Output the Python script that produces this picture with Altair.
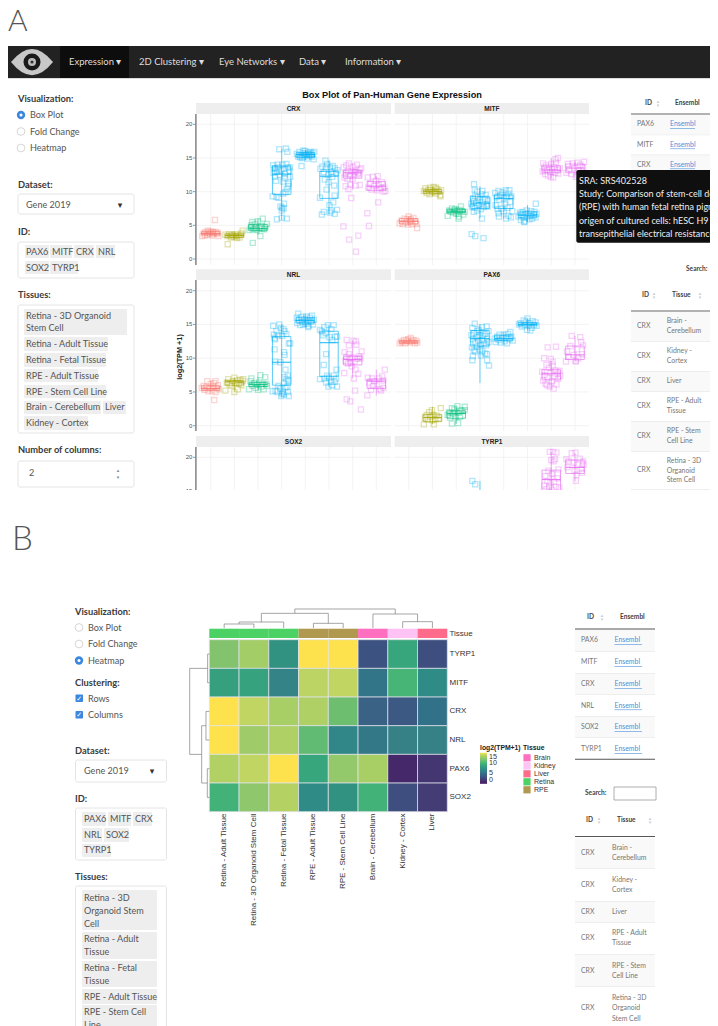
import altair as alt
import pandas as pd

# ---------- values ----------
GENES = ["CRX", "MITF", "NRL", "PAX6", "SOX2", "TYRP1"]
GROUP_TISSUE = ["Brain", "Kidney", "Liver", "Retina", "Retina", "Retina", "RPE", "RPE"]
TISSUES = ["Brain", "Kidney", "Liver", "Retina", "RPE"]
BOX_HUES = ["#F8766D", "#A3A500", "#00BF7D", "#00B0F6", "#E76BF3"]

# per gene: group -> (low whisker, q1, median, q3, high whisker)
BOXES = {
    "CRX": {1: (3.4, 3.6, 3.8, 4.1, 4.4), 2: (2.9, 3.2, 3.5, 3.7, 4.1), 3: (3.6, 4.2, 4.5, 5.1, 6.0),
            4: (5.8, 9.6, 12.6, 13.8, 16.3), 5: (14.7, 15.1, 15.5, 15.8, 16.2), 6: (6.6, 9.0, 12.3, 13.0, 14.6),
            7: (10.3, 12.0, 12.8, 13.2, 14.2), 8: (10.0, 10.2, 10.8, 11.5, 12.3)},
    "MITF": {1: (4.9, 5.2, 5.6, 6.0, 6.3), 2: (9.3, 9.7, 10.0, 10.3, 10.7), 3: (6.2, 6.9, 7.1, 7.4, 7.8),
             4: (6.0, 7.5, 8.3, 9.3, 10.8), 5: (6.0, 7.5, 9.0, 9.5, 10.2), 6: (5.5, 6.1, 6.5, 7.0, 8.0),
             7: (12.0, 12.8, 13.2, 13.8, 15.0), 8: (12.0, 12.8, 13.5, 14.1, 14.4)},
    "NRL": {1: (5.0, 5.2, 5.5, 5.9, 6.6), 2: (5.0, 6.0, 6.5, 6.7, 7.1), 3: (5.2, 5.8, 6.1, 6.4, 7.2),
            4: (4.3, 6.0, 9.4, 13.2, 15.0), 5: (14.6, 15.2, 15.6, 16.0, 16.6), 6: (5.7, 7.3, 12.3, 14.0, 15.0),
            7: (7.0, 9.0, 9.8, 10.3, 12.7), 8: (4.5, 5.5, 6.6, 6.9, 8.3)},
    "PAX6": {1: (12.0, 12.2, 12.4, 12.6, 13.0), 2: (0.2, 0.6, 1.2, 1.7, 2.8), 3: (0.3, 1.1, 1.8, 2.2, 3.0),
             4: (6.3, 11.8, 12.9, 14.1, 15.0), 5: (12.2, 12.6, 12.9, 13.4, 13.9), 6: (14.1, 14.8, 15.0, 15.3, 15.9),
             7: (5.5, 6.8, 7.7, 8.3, 9.6), 8: (9.5, 9.8, 10.5, 11.8, 13.3)},
    "TYRP1": {4: (13.0, 13.4, 13.9, 14.6, 16.5), 7: (13.0, 14.6, 16.7, 18.1, 20.8), 8: (16.4, 17.6, 18.5, 19.6, 20.6)},
}

# per gene: group -> (jitter, log2(TPM+1)) read point by point
POINTS = {
 "CRX": {
  1: [(-.36,3.4),(-.3,3.8),(-.25,3.5),(-.22,4.0),(-.15,3.6),(-.08,3.9),(-.02,3.7),(0,4.1),(.06,3.5),(.12,3.8),(.18,5.8),(.2,4.0),(.27,3.7),(.3,3.9),(.33,3.4),(-.12,4.2),(.08,4.0)],
  2: [(-.38,3.6),(-.3,3.4),(-.28,2.2),(-.22,3.7),(-.15,3.2),(-.08,3.6),(-.02,3.3),(.04,3.7),(.1,3.1),(.16,3.5),(.22,3.2),(.28,3.6),(.35,4.2),(-.12,3.5),(.08,3.4),(.3,3.8)],
  3: [(-.36,4.3),(-.3,4.7),(-.22,2.4),(-.24,5.5),(-.2,4.4),(-.14,5.2),(-.1,4.6),(-.05,4.3),(.0,5.6),(.06,4.6),(.1,3.4),(.14,4.9),(.2,6.0),(.26,4.4),(.32,4.8),(.38,5.2),(-.28,5.0),(.18,4.5)],
  4: [(-.38,9.3),(-.3,13.5),(-.36,13.9),(-.2,13.0),(-.1,16.3),(.18,16.4),(.24,15.9),(-.34,12.8),(-.27,13.4),(-.24,11.6),(-.18,14.0),(-.14,13.6),(-.08,12.5),(-.02,13.1),(.03,14.0),(.09,13.4),(.14,12.7),(.2,14.1),(.26,13.6),(.33,13.1),(.36,12.2),(.12,12.0),(.28,10.8),(.22,10.4),(.16,9.9),(.06,9.7),(-.12,9.1),(-.22,9.2),(.3,11.2),(-.05,7.8),(.02,7.6),(.08,7.5),(.0,7.2),(-.2,5.9),(.0,6.1),(.22,6.0),(.1,8.2),(-.28,12.2),(.35,13.6),(.05,11.5)],
  5: [(-.36,15.6),(-.3,15.2),(-.25,15.9),(-.2,15.4),(-.16,13.8),(-.14,15.0),(-.1,15.7),(-.05,15.2),(0,16.0),(.04,15.5),(.08,14.9),(.12,15.8),(.17,15.3),(.22,15.9),(.27,15.2),(.3,15.7),(.35,14.8),(.38,15.9),(-.02,15.5),(.15,15.6),(-.22,15.1),(-.08,16.1),(.25,15.5)],
  6: [(-.38,9.1),(-.36,13.4),(-.28,13.7),(-.22,12.9),(-.15,14.6),(-.12,13.6),(-.08,14.1),(-.02,12.5),(.04,13.6),(.1,12.9),(.16,13.8),(.24,13.5),(.3,12.8),(.36,13.2),(.22,10.9),(.24,9.4),(-.3,6.6),(-.22,7.0),(.02,8.0),(.1,7.2),(.18,8.4),(.24,6.7),(.34,7.3),(.05,6.9),(-.02,11.4),(.14,12.2),(-.1,10.3),(-.18,11.8)],
  7: [(-.39,4.85),(-.15,2.87),(.24,3.47),(.14,1.1),(-.06,9.05),(-.38,13.6),(-.3,12.7),(-.27,13.9),(-.2,13.0),(-.16,14.2),(-.1,12.4),(-.04,13.1),(.02,13.7),(.06,12.5),(.12,13.0),(.18,14.0),(.24,12.6),(.3,13.3),(.36,13.5),(-.3,10.8),(-.18,10.4),(-.1,11.0),(.14,10.9),(.3,11.0),(.0,11.9),(-.22,11.9),(.08,12.9),(.22,12.8),(-.34,12.1)],
  8: [(-.38,6.8),(-.31,4.9),(.08,8.4),(-.36,12.1),(-.34,10.6),(-.24,11.2),(-.2,10.3),(-.15,12.2),(-.1,10.9),(-.02,11.6),(.03,10.2),(.06,12.3),(.1,11.0),(.18,10.5),(.24,11.4),(.3,10.0),(.34,10.6),(.38,10.1)],
 },
 "MITF": {
  1: [(-.38,5.3),(-.3,5.7),(-.25,5.2),(-.18,6.0),(-.12,5.4),(-.06,5.9),(0,6.3),(.05,5.5),(.1,5.9),(.16,5.2),(.2,6.1),(.27,5.6),(.33,5.2),(.35,4.6),(-.02,5.1),(.08,5.7)],
  2: [(-.36,10.1),(-.3,10.5),(-.24,9.8),(-.18,10.2),(-.12,9.6),(-.06,10.3),(0,9.9),(.05,10.7),(.1,10.1),(.16,9.7),(.2,10.4),(.26,10.0),(.32,9.5),(.36,10.2),(.34,9.3),(.14,10.6),(-.1,10.6)],
  3: [(-.36,6.4),(-.3,7.2),(-.24,7.0),(-.18,7.5),(-.12,6.9),(-.06,7.2),(0,6.7),(.05,7.1),(.1,6.0),(.15,7.3),(.2,7.8),(.25,7.1),(.3,6.6),(.36,7.0),(.12,6.3),(-.04,7.4)],
  4: [(-.25,11.1),(-.22,10.3),(-.12,10.0),(-.36,8.2),(-.34,7.7),(-.3,9.0),(-.26,8.5),(-.22,7.6),(-.2,9.4),(-.16,8.3),(-.12,7.2),(-.08,9.2),(-.04,8.0),(0,8.8),(.04,7.4),(.08,9.6),(.12,8.4),(.16,7.7),(.2,8.9),(.24,9.5),(.28,8.1),(.32,7.8),(.34,8.7),(-.35,3.7),(-.2,3.4),(.15,3.1),(.08,6.0),(-.26,7.0),(.1,10.1)],
  5: [(-.36,9.8),(-.34,8.0),(-.3,9.2),(-.26,7.4),(-.22,10.1),(-.18,8.8),(-.14,9.5),(-.1,7.5),(-.06,9.9),(0,9.0),(.04,8.1),(.08,10.2),(.12,9.2),(.16,7.6),(.2,9.7),(.24,10.2),(.28,8.5),(.32,9.3),(.36,7.1),(.2,6.4),(.3,6.2),(-.2,6.3),(-.22,6.8),(.1,6.0),(0,7.1)],
  6: [(-.38,6.3),(-.32,6.9),(-.28,5.8),(-.24,6.5),(-.2,7.0),(-.16,6.1),(-.12,5.6),(-.08,6.7),(-.04,7.2),(0,6.2),(.04,6.8),(.08,5.9),(.12,6.4),(.16,7.1),(.2,6.0),(.26,6.6),(.3,7.0),(.34,6.2),(.35,8.2),(.38,6.7),(-.14,5.5)],
  7: [(-.36,13.0),(-.34,14.2),(-.3,13.6),(-.26,12.6),(-.22,13.9),(-.18,13.2),(-.14,12.4),(-.08,13.6),(-.04,12.9),(0,14.1),(.04,13.3),(.08,12.1),(.12,13.7),(.16,12.8),(.2,14.3),(.24,13.2),(.28,15.0),(.3,12.7),(.36,13.5),(.18,14.8),(-.02,12.2)],
  8: [(-.36,12.8),(-.3,14.1),(-.24,13.3),(-.16,12.6),(-.1,14.2),(-.04,13.5),(.04,12.2),(.1,14.3),(.16,13.1),(.22,14.0),(.28,12.7),(.34,13.6),(.38,14.4)],
 },
 "NRL": {
  1: [(-.38,5.6),(-.3,5.9),(-.25,5.3),(-.18,5.7),(-.14,6.6),(-.1,5.1),(-.04,5.6),(0,6.2),(.05,5.2),(.1,5.8),(.14,6.3),(.15,3.8),(.2,5.0),(.25,5.6),(.3,6.0),(.34,5.4),(.2,6.6)],
  2: [(-.38,5.2),(-.32,6.4),(-.26,6.9),(-.2,6.1),(-.12,5.9),(-.06,6.6),(0,7.1),(.0,5.0),(.05,6.3),(.1,6.7),(.15,5.4),(.2,6.2),(.25,6.8),(.3,6.0),(.35,6.6),(.38,6.9)],
  3: [(-.38,5.4),(-.32,6.6),(-.28,7.0),(-.24,5.9),(-.16,6.3),(-.1,5.6),(-.04,6.1),(0,5.3),(.05,6.4),(.1,7.5),(.14,5.8),(.2,6.2),(.24,5.4),(.3,7.2),(.35,6.2),(.38,5.9)],
  4: [(-.36,14.8),(-.33,13.5),(-.3,13.0),(-.28,12.8),(-.22,14.0),(-.16,13.4),(-.1,15.0),(-.04,14.5),(.02,13.3),(.08,14.3),(.12,14.0),(.2,13.6),(.3,12.2),(.36,12.2),(-.3,11.3),(-.28,9.5),(.1,10.9),(.12,10.5),(-.05,9.4),(.16,8.3),(.12,7.2),(.26,7.4),(.2,6.9),(.28,6.7),(.1,6.3),(-.38,5.1),(-.26,5.2),(-.18,5.0),(-.06,5.5),(-.02,4.4),(.05,5.0),(.1,4.6),(.16,5.6),(.26,5.0),(.3,4.4),(.24,5.8),(.02,4.7),(-.14,5.9)],
  5: [(-.36,16.0),(-.34,15.2),(-.28,15.7),(-.22,14.9),(-.18,16.1),(-.14,15.4),(-.08,15.0),(-.04,15.8),(0,15.3),(.05,16.2),(.1,15.6),(.14,14.8),(.2,16.0),(.24,15.4),(.28,16.3),(.32,15.0),(.36,15.7),(-.3,16.6),(.12,14.6),(.05,15.1)],
  6: [(-.38,6.9),(-.38,14.2),(-.3,14.0),(-.24,13.4),(-.2,14.6),(-.14,13.7),(-.05,14.9),(.02,13.1),(.1,14.3),(.14,12.7),(.2,14.9),(.26,13.2),(.34,13.2),(-.22,9.0),(-.12,10.6),(-.2,7.0),(-.08,7.4),(.0,7.1),(-.12,6.4),(-.02,5.8),(.08,6.5),(.14,6.0),(.2,7.4),(.32,8.3),(.34,5.8),(.24,6.5),(.3,7.0)],
  7: [(-.36,7.8),(-.34,10.9),(-.25,12.7),(-.25,3.9),(-.1,3.6),(.1,5.2),(.35,2.4),(.05,7.0),(-.3,9.6),(-.26,10.2),(-.2,9.2),(-.16,11.9),(-.12,10.0),(-.08,9.3),(-.04,8.8),(0,10.1),(.04,12.6),(.08,9.5),(.12,8.3),(.16,12.0),(.2,9.9),(.24,7.7),(.28,10.3),(.32,10.0),(.38,11.0),(-.16,10.6),(.14,12.5)],
  8: [(-.38,4.5),(-.36,7.1),(-.3,6.4),(-.22,5.3),(-.18,7.0),(-.14,5.9),(-.08,6.6),(.02,6.1),(.12,7.0),(.15,5.4),(.2,5.2),(.25,7.3),(.3,6.7),(.3,5.6),(.36,8.3)],
 },
 "PAX6": {
  1: [(-.38,12.2),(-.32,12.5),(-.26,12.3),(-.2,12.7),(-.14,12.2),(-.08,12.6),(-.02,12.8),(.03,12.3),(.08,13.0),(.14,12.5),(.2,12.7),(.26,12.2),(.32,12.6),(.36,12.3)],
  2: [(-.36,0.2),(-.32,1.2),(-.24,1.6),(-.2,0.9),(-.14,2.0),(-.08,1.3),(-.02,2.3),(0,0.8),(.04,1.6),(.06,0.2),(.12,1.0),(.18,1.5),(.35,2.6),(.26,1.1)],
  3: [(-.36,1.6),(-.3,2.0),(-.26,1.2),(-.18,2.6),(-.14,1.8),(-.08,2.4),(-.02,1.3),(-.18,0.3),(.05,2.9),(.08,0.4),(.1,1.9),(.16,1.3),(.2,2.3),(.26,2.2),(.36,2.8),(.36,2.3),(-.05,2.0)],
  4: [(-.32,14.5),(-.22,15.1),(-.04,14.2),(.08,14.6),(.28,14.7),(.3,9.7),(.36,14.0),(-.36,13.4),(-.3,12.8),(-.24,13.7),(-.2,12.3),(-.14,13.1),(-.1,14.0),(-.06,12.6),(-.02,13.4),(.02,12.0),(.06,13.8),(.1,12.7),(.14,13.3),(.18,12.2),(.22,13.6),(.26,11.9),(.3,12.9),(.36,12.4),(-.34,11.6),(-.26,11.2),(-.14,11.7),(0,11.3),(.1,11.0),(.22,10.7),(.3,10.6),(-.32,9.7),(.38,8.9),(-.3,10.3),(.04,10.4),(-.2,11.0)],
  5: [(-.38,12.9),(-.34,12.4),(-.28,13.2),(-.22,12.7),(-.18,13.5),(-.12,12.3),(-.06,13.0),(0,13.5),(.04,12.5),(.1,13.1),(.14,12.2),(.18,13.6),(.24,12.8),(.28,13.9),(.32,13.2),(.38,12.6)],
  6: [(-.36,15.0),(-.3,15.2),(-.24,14.7),(-.16,15.6),(-.1,14.9),(-.06,15.4),(0,15.9),(.04,14.8),(.08,15.2),(.12,14.1),(.18,14.5),(.22,15.5),(.28,14.9),(.34,15.3),(.38,14.8),(-.02,14.2)],
  7: [(-.38,8.0),(-.34,6.7),(-.3,10.0),(-.28,7.5),(-.24,6.2),(-.2,9.0),(-.16,7.2),(-.15,11.6),(-.1,8.6),(-.06,5.8),(-.03,7.8),(-.02,9.9),(.03,6.6),(.06,8.9),(.1,5.5),(.14,7.4),(.18,8.2),(.2,11.7),(.22,6.1),(.26,7.7),(.3,7.0),(.35,8.1),(.38,7.4),(.06,9.5),(-.18,6.0)],
  8: [(-.38,9.5),(-.34,11.0),(-.28,10.2),(-.2,11.8),(-.14,13.3),(-.06,10.5),(.02,9.6),(.08,11.3),(.14,10.0),(.22,13.1),(.26,12.4),(.3,10.6),(.34,11.9),(.04,9.5)],
 },
 "TYRP1": {
  4: [(-.32,16.5),(-.2,16.0)],
  7: [(-.36,14.7),(-.3,15.8),(-.25,17.2),(-.2,15.3),(-.16,16.5),(-.12,18.0),(-.08,15.6),(-.06,20.8),(-.03,16.2),(0,19.6),(.04,15.2),(.06,17.5),(.08,20.8),(.12,16.4),(.16,19.7),(.2,15.6),(.22,20.7),(.26,16.9),(.3,18.2),(.34,15.5),(.1,19.4),(-.1,14.9),(.02,17.6)],
  8: [(-.36,19.7),(-.32,18.5),(-.28,19.4),(-.14,20.6),(-.04,19.2),(-.02,18.0),(.02,20.7),(.06,17.4),(.1,18.9),(.04,16.5),(.2,19.8),(.28,18.3),(.34,19.4),(.3,17.7),(.36,18.9)],
 },
}

HEAT_COLS = ["Retina - Adult Tissue", "Retina - 3D Organoid Stem Cell", "Retina - Fetal Tissue",
             "RPE - Adult Tissue", "RPE - Stem Cell Line", "Brain - Cerebellum", "Kidney - Cortex", "Liver"]
HEAT_COL_TISSUE = ["Retina", "Retina", "Retina", "RPE", "RPE", "Brain", "Kidney", "Liver"]
HEAT_ROWS = ["TYRP1", "MITF", "CRX", "NRL", "PAX6", "SOX2"]
HEAT_VALUES = [
    [11.9, 13.0, 7.6, 15.2, 15.2, 3.2, 9.0, 3.0],
    [8.6, 8.8, 6.4, 13.8, 14.0, 5.4, 10.0, 7.0],
    [15.2, 14.0, 13.2, 13.4, 11.2, 4.2, 3.6, 5.2],
    [15.3, 12.9, 13.4, 10.8, 6.6, 5.6, 6.2, 6.2],
    [13.5, 14.0, 15.2, 9.0, 12.5, 13.2, 0.8, 1.6],
    [9.8, 12.3, 13.6, 7.0, 7.6, 9.8, 3.0, 2.0],
]
HEAT_STOPS = [0, 2, 4, 6, 8, 10, 12, 14, 15]
HEAT_RAMP = ["#46185F", "#443C74", "#3C5F84", "#377E86", "#35977F", "#46B576", "#86C46E", "#C1D562", "#FDE24D"]
ANNOT_TISSUES = ["Brain", "Kidney", "Liver", "Retina", "RPE"]
ANNOT_COLOURS = ["#FF6FBF", "#FFC2F5", "#FF6B8B", "#4CD264", "#B0984F"]

# dendrogram merges: left, right, height, left child height, right child height
TOP_TREE = [(0.5, 1.5, 12, 0, 0), (1.0, 2.5, 18, 12, 0), (3.5, 4.5, 14, 0, 0), (1.75, 4.0, 44, 18, 14),
            (6.5, 7.5, 19, 0, 0), (5.5, 7.0, 42, 0, 19), (2.875, 6.25, 57, 44, 42)]
LEFT_TREE = [(0.5, 1.5, 5, 0, 0), (2.5, 3.5, 10, 0, 0), (4.5, 5.5, 6, 0, 0), (3.0, 5.0, 23, 10, 6), (1.0, 4.0, 59, 5, 23)]

# ---------- helpers ----------
UI = "Lato"
layers = []

def nox(f, **k):
    return alt.X(f, axis=None, **k)

def noy(f, **k):
    return alt.Y(f, axis=None, **k)

def px(v):
    return v - 8

def boxes(rows, fill, stroke=None, radius=0, width=0.8):
    """UI furniture: rows are left, top, right, bottom in page pixels."""
    df = pd.DataFrame([[px(a), px(b), px(c), px(d)] for a, b, c, d in rows], columns=["a", "b", "c", "d"])
    opts = dict(fill=fill, cornerRadius=radius)
    if stroke:
        opts.update(stroke=stroke, strokeWidth=width)
    layers.append(alt.Chart(df).mark_rect(**opts).encode(
        x=nox("a:Q", scale=None), x2="c:Q", y=noy("b:Q", scale=None), y2="d:Q"))

def words(rows, **mark):
    """UI text: rows are text, x, y in page pixels."""
    df = pd.DataFrame([[t, px(a), px(b)] for t, a, b in rows], columns=["t", "a", "b"])
    base = dict(font=UI, align="left", baseline="middle")
    base.update(mark)
    layers.append(alt.Chart(df).mark_text(**base).encode(
        x=nox("a:Q", scale=None), y=noy("b:Q", scale=None), text="t:N"))

def dots(rows, **mark):
    df = pd.DataFrame([[px(a), px(b)] for a, b in rows], columns=["a", "b"])
    layers.append(alt.Chart(df).mark_point(**mark).encode(
        x=nox("a:Q", scale=None), y=noy("b:Q", scale=None)))

LABEL = dict(fontWeight="bold", fontSize=9.3, fill="#3a3a3a")
BODY = dict(fontSize=9.1, fill="#555555")
CELL = dict(fontSize=6.9, fill="#777777")
HEAD = dict(fontSize=6.6, fontWeight="bold", fill="#444444")
GLYPH = dict(font="DejaVu Sans", align="center")

# ---------- letter A, navigation bar ----------
words([("A", 8, 31)], fontSize=30, fill="#555555", baseline="alphabetic", fontWeight=300)
boxes([(0, 46, 718, 78)], "#222222")
boxes([(60, 46, 129, 78)], "#0d0d0d")
boxes([(0, 78, 718, 79)], "#dddddd")
dots([(32, 62)], shape="M-1,0 Q0,-1.25 1,0 Q0,1.25 -1,0 Z", size=1764, fill="#c8c8c8", filled=True, opacity=1, strokeWidth=0)
dots([(32, 62)], shape="circle", size=289, fill="#1a1a1a", filled=True, opacity=1, strokeWidth=0)
dots([(32, 62)], shape="circle", size=64, fill="#bdbdbd", filled=True, opacity=1, strokeWidth=0)
dots([(32, 62)], shape="circle", size=10, fill="#333333", filled=True, opacity=1, strokeWidth=0)
words([("Expression ▾", 69, 62), ("2D Clustering ▾", 139, 62), ("Eye Networks ▾", 219, 62),
       ("Data ▾", 299, 62), ("Information ▾", 345, 62)], fontSize=9.5, fill="#dddddd")

# ---------- sidebar A ----------
words([("Visualization:", 18, 99), ("Dataset:", 18, 184.5), ("ID:", 18, 232), ("Tissues:", 18, 295),
       ("Number of columns:", 18, 450)], **LABEL)
dots([(21, 131.5), (21, 148)], shape="circle", size=60, fill="#ffffff", filled=True, stroke="#cccccc", strokeWidth=0.8, opacity=1)
dots([(21, 115)], shape="circle", size=70, fill="#3B88E0", filled=True, opacity=1, strokeWidth=0)
dots([(21, 115)], shape="circle", size=9, fill="#ffffff", filled=True, opacity=1, strokeWidth=0)
words([("Box Plot", 30, 115), ("Fold Change", 30, 131.5), ("Heatmap", 30, 148)], **BODY)
boxes([(18, 194, 134, 214), (18, 242, 134, 278), (18, 305, 134, 433), (18, 461, 134, 487)], "#ffffff", "#dddddd", 2)
words([("Gene 2019", 26, 204.5), ("2", 29, 473)], **BODY)
words([("▾", 120, 204.5)], fontSize=9, fill="#333333", **GLYPH)
words([("▴", 118, 469.5), ("▾", 118, 476.5)], fontSize=5, fill="#888888", **GLYPH)
boxes([(25, 245, 49, 258), (50, 245, 72, 258), (74, 245, 94, 258), (96, 245, 115, 258), (25, 261, 49, 274), (50, 261, 78, 274),
       (24, 309, 127, 335), (24, 337, 108, 351), (24, 353, 106, 367), (24, 369, 98, 382), (24, 385, 106, 398),
       (24, 401, 101, 414), (103, 401, 126, 414), (24, 416, 88, 430)], "#eeeeee", None, 1)
words([("PAX6", 26, 252), ("MITF", 52, 252), ("CRX", 76, 252), ("NRL", 98, 252), ("SOX2", 26, 268), ("TYRP1", 52, 268),
       ("Retina - 3D Organoid", 26, 315.5), ("Stem Cell", 26, 328), ("Retina - Adult Tissue", 26, 344),
       ("Retina - Fetal Tissue", 26, 360), ("RPE - Adult Tissue", 26, 375.5), ("RPE - Stem Cell Line", 26, 391.5),
       ("Brain - Cerebellum", 26, 407), ("Liver", 105, 407), ("Kidney - Cortex", 26, 423)], **BODY)

# ---------- faceted box plots ----------
words([("Box Plot of Pan-Human Gene Expression", 392, 95)], font="Liberation Sans", fontWeight="bold", fontSize=9.2, fill="#111111", align="center")
words([("log2(TPM +1)", 180, 357)], font="Liberation Sans", fontWeight="bold", fontSize=7.3, fill="#222222", align="center", angle=270)

HUE = alt.Scale(domain=TISSUES, range=BOX_HUES)
TICKS = [0, 5, 10, 15, 20]
GROUP_POS = list(range(1, 9))
COL_X = [(196, 391, 210.7, 376.3), (394.7, 589, 408.7, 575)]
ROW_Y = [(103, 114, 265, 259, 124.3), (269.3, 280, 431, 425.7, 290.7), (436, 447, 598, 592, 457.3)]

for i, gene in enumerate(GENES):
    left, right, x1, x8 = COL_X[i % 2]
    s_top, top, bottom, y0, y20 = ROW_Y[i // 2]
    xs = alt.Scale(domain=[1, 8], range=[px(x1), px(x8)])
    ys = alt.Scale(domain=[0, 20], range=[px(y0), px(y20)])
    boxes([(left, s_top, right, top)], "#eeeeee")
    words([(gene, (left + right) / 2, (s_top + top) / 2)], font="Liberation Sans", fontWeight="bold", fontSize=6.5, fill="#222222", align="center")
    layers.append(alt.Chart(pd.DataFrame({"k": GROUP_POS})).mark_rule(color="#eeeeee", strokeWidth=0.7).encode(
        x=nox("k:Q", scale=xs), y=alt.value(px(top)), y2=alt.value(px(bottom))))
    layers.append(alt.Chart(pd.DataFrame({"v": TICKS})).mark_rule(color="#eeeeee", strokeWidth=0.7).encode(
        y=noy("v:Q", scale=ys), x=alt.value(px(left)), x2=alt.value(px(right))))
    if i % 2 == 0:
        boxes([(left - 0.8, top, left + 0.6, bottom)], "#7a7a7a")
        tick_df = pd.DataFrame({"v": TICKS})
        layers.append(alt.Chart(tick_df).mark_rule(color="#555555", strokeWidth=0.6).encode(
            y=noy("v:Q", scale=ys), x=alt.value(px(left - 3)), x2=alt.value(px(left - 0.8))))
        layers.append(alt.Chart(tick_df).mark_text(font="Liberation Sans", fontSize=6, fill="#555555", align="right", baseline="middle").encode(
            y=noy("v:Q", scale=ys), x=alt.value(px(left - 3.6)), text="v:Q"))
    if gene not in POINTS:
        continue
    pts = pd.DataFrame([{"px": k + dx, "v": v, "tissue": GROUP_TISSUE[k - 1]}
                        for k, rows in POINTS[gene].items() for dx, v in rows])
    stats = pd.DataFrame([{"k": k, "a": k - 0.39, "b": k + 0.39, "lo": s[0], "q1": s[1], "med": s[2], "q3": s[3], "hi": s[4],
                           "tissue": GROUP_TISSUE[k - 1]} for k, s in BOXES[gene].items()])
    colour = alt.Color("tissue:N", scale=HUE, legend=None)
    layers.append(alt.Chart(stats).mark_rule(strokeWidth=0.8, opacity=0.75).encode(
        x=nox("k:Q", scale=xs), y=noy("lo:Q", scale=ys), y2="hi:Q", color=colour))
    layers.append(alt.Chart(pts).mark_point(shape="square", filled=False, size=26, strokeWidth=1.3, opacity=0.3).encode(
        x=nox("px:Q", scale=xs), y=noy("v:Q", scale=ys), color=colour))
    layers.append(alt.Chart(stats).mark_rect(fillOpacity=0, strokeWidth=0.8, opacity=0.8).encode(
        x=nox("a:Q", scale=xs), x2="b:Q", y=noy("q1:Q", scale=ys), y2="q3:Q", stroke=alt.Stroke("tissue:N", scale=HUE, legend=None)))
    layers.append(alt.Chart(stats).mark_rule(strokeWidth=1.1, opacity=0.85).encode(
        x=nox("a:Q", scale=xs), x2="b:Q", y=noy("med:Q", scale=ys), color=colour))

# ---------- tables A ----------
boxes([(631, 115, 718, 134), (631, 155, 718, 175), (631, 312, 718, 341), (631, 371, 718, 391), (631, 421, 718, 451)], "#f9f9f9")
boxes([(631, 113.5, 718, 114.5), (631, 310.5, 718, 311.5)], "#666666")
boxes([(631, y, 718, y + 0.7) for y in (134.5, 154.5, 341, 371, 391, 421, 451, 489)], "#e9e9e9")
words([("ID", 645, 103), ("Ensembl", 675, 103), ("ID", 642, 295), ("Tissue", 672, 295), ("Search:", 686, 269)], **HEAD)
words([("▴", x, y) for x, y in ((658, 101), (654, 293), (700, 293))], fontSize=5, fill="#cccccc", **GLYPH)
words([("▾", x, y) for x, y in ((658, 105), (654, 297), (700, 297))], fontSize=5, fill="#cccccc", **GLYPH)
words([("PAX6", 637, 124), ("MITF", 637, 144.5), ("CRX", 637, 164.5), ("CRX", 637, 326), ("CRX", 637, 356), ("CRX", 637, 381),
       ("CRX", 637, 406), ("CRX", 637, 436), ("CRX", 637, 470), ("Brain -", 666.7, 321), ("Cerebellum", 666.7, 331),
       ("Kidney -", 666.7, 351), ("Cortex", 666.7, 361), ("Liver", 666.7, 381), ("RPE - Adult", 666.7, 401), ("Tissue", 666.7, 411),
       ("RPE - Stem", 666.7, 431), ("Cell Line", 666.7, 441), ("Retina - 3D", 666.7, 461), ("Organoid", 666.7, 470.5), ("Stem Cell", 666.7, 480)], **CELL)
words([("Ensembl", 670, 124), ("Ensembl", 670, 144.5), ("Ensembl", 670, 164.5)], fontSize=6.9, fill="#4A90D9")
boxes([(670, y, 695, y + 0.6) for y in (128, 148.5, 168.5)], "#4A90D9")

# cut of the screenshot below panel A
boxes([(0, 490, 718, 604)], "#ffffff")

# ---------- letter B, sidebar B ----------
words([("B", 12, 550)], fontSize=33, fill="#555555", baseline="alphabetic", fontWeight=300)
words([("Visualization:", 75, 612), ("Clustering:", 75, 683), ("Dataset:", 75, 750.5), ("ID:", 75, 799), ("Tissues:", 75, 877)], **LABEL)
dots([(79, 627.5), (79, 644)], shape="circle", size=60, fill="#ffffff", filled=True, stroke="#cccccc", strokeWidth=0.8, opacity=1)
dots([(79, 660.5)], shape="circle", size=70, fill="#3B88E0", filled=True, opacity=1, strokeWidth=0)
dots([(79, 660.5)], shape="circle", size=9, fill="#ffffff", filled=True, opacity=1, strokeWidth=0)
words([("Box Plot", 88, 627.5), ("Fold Change", 88, 644), ("Heatmap", 88, 660.5), ("Rows", 88, 698.5), ("Columns", 88, 715)], **BODY)
boxes([(75.5, 694.5, 83, 702), (75.5, 711, 83, 718.5)], "#3B88E0", None, 1)
words([("✓", 79.2, 698.5), ("✓", 79.2, 715)], fontSize=7, fill="#ffffff", **GLYPH)
boxes([(75.5, 760, 166.5, 782), (75.5, 808, 166.5, 860), (75.5, 886, 166.5, 1040)], "#ffffff", "#dddddd", 2)
words([("Gene 2019", 84, 771)], **BODY)
words([("▾", 152, 771)], fontSize=9, fill="#333333", **GLYPH)
boxes([(82, 812, 106, 826), (108, 812, 131, 826), (133, 812, 152, 826), (82, 828, 102, 842), (104, 828, 129, 842), (82, 844, 111, 857),
       (82, 890, 157, 930), (82, 932, 157, 959), (82, 961, 157, 987), (82, 989, 157, 1004), (82, 1005, 157, 1040)], "#eeeeee", None, 1)
words([("PAX6", 84, 819), ("MITF", 110, 819), ("CRX", 135, 819), ("NRL", 84, 835), ("SOX2", 106, 835), ("TYRP1", 84, 850),
       ("Retina - 3D", 84, 897.5), ("Organoid Stem", 84, 911), ("Cell", 84, 924), ("Retina - Adult", 84, 939), ("Tissue", 84, 952),
       ("Retina - Fetal", 84, 968), ("Tissue", 84, 981), ("RPE - Adult Tissue", 84, 996.5), ("RPE - Stem Cell", 84, 1012), ("Line", 84, 1025)], **BODY)

# ---------- clustered heatmap ----------
HX = [px(209.3), px(447.3)]
HY = [px(639.7), px(811.7)]
col_band = alt.Scale(domain=HEAT_COLS, range=HX, paddingInner=0, paddingOuter=0)
row_band = alt.Scale(domain=HEAT_ROWS, range=HY, paddingInner=0, paddingOuter=0)
heat = pd.DataFrame([{"col": c, "row": r, "value": HEAT_VALUES[j][i]}
                     for j, r in enumerate(HEAT_ROWS) for i, c in enumerate(HEAT_COLS)])
layers.append(alt.Chart(heat).mark_rect(stroke="#e4e4ee", strokeWidth=0.7).encode(
    x=nox("col:N", scale=col_band), y=noy("row:N", scale=row_band),
    color=alt.Color("value:Q", scale=alt.Scale(domain=HEAT_STOPS, range=HEAT_RAMP, clamp=True),
                    legend=alt.Legend(orient="none", legendX=px(480), legendY=px(745), title="log2(TPM+1)", titleFontSize=6.8,
                                      titleFont="Liberation Sans", titleColor="#222222", titlePadding=1, labelFont="Liberation Sans", labelFontSize=7.2,
                                      labelColor="#333333", gradientLength=31, gradientThickness=7, values=[0, 5, 10, 15],
                                      labelOverlap=False, tickCount=4))))
annot = pd.DataFrame({"col": HEAT_COLS, "tissue": HEAT_COL_TISSUE})
layers.append(alt.Chart(annot).mark_rect().encode(
    x=nox("col:N", scale=col_band), y=alt.value(px(628.7)), y2=alt.value(px(638)),
    color=alt.Color("tissue:N", scale=alt.Scale(domain=ANNOT_TISSUES, range=ANNOT_COLOURS),
                    legend=alt.Legend(orient="none", legendX=px(523), legendY=px(745), title="Tissue", titleFontSize=6.8, titleFont="Liberation Sans",
                                      titleColor="#222222", titlePadding=2, labelFont="Liberation Sans", labelFontSize=7, labelColor="#333333", symbolType="square",
                                      symbolSize=52, symbolStrokeWidth=0, rowPadding=0, labelOffset=3))))
layers.append(alt.Chart(annot).mark_text(font="Liberation Sans", fontSize=8, fill="#333333", angle=270, align="right", baseline="middle").encode(
    x=nox("col:N", scale=alt.Scale(domain=HEAT_COLS, range=HX)), y=alt.value(px(813.5)), text="col:N"))
layers.append(alt.Chart(pd.DataFrame({"row": HEAT_ROWS})).mark_text(font="Liberation Sans", fontSize=8, fill="#333333", align="left", baseline="middle").encode(
    y=noy("row:N", scale=alt.Scale(domain=HEAT_ROWS, range=HY)), x=alt.value(px(449.5)), text="row:N"))
words([("Tissue", 449.5, 633.5)], font="Liberation Sans", fontSize=8, fill="#333333")

def tree_segments(tree):
    rows = []
    for l, r, h, hl, hr in tree:
        rows += [(l, r, h, h), (l, l, hl, h), (r, r, hr, h)]
    return pd.DataFrame(rows, columns=["p0", "p1", "h0", "h1"])

layers.append(alt.Chart(tree_segments(TOP_TREE)).mark_rule(color="#808080", strokeWidth=0.7).encode(
    x=nox("p0:Q", scale=alt.Scale(domain=[0, 8], range=HX)), x2="p1:Q",
    y=noy("h0:Q", scale=alt.Scale(domain=[0, 57], range=[px(628), px(609)])), y2="h1:Q"))
layers.append(alt.Chart(tree_segments(LEFT_TREE)).mark_rule(color="#808080", strokeWidth=0.7).encode(
    y=noy("p0:Q", scale=alt.Scale(domain=[0, 6], range=HY)), y2="p1:Q",
    x=nox("h0:Q", scale=alt.Scale(domain=[0, 59], range=[px(209.3), px(189.7)])), x2="h1:Q"))

# ---------- tables B ----------
boxes([(575, 630, 655, 651), (575, 673, 655, 694), (575, 716, 655, 737), (575, 838, 655, 868), (575, 901, 655, 922), (575, 954, 655, 986)], "#f9f9f9")
boxes([(575, 628.5, 655, 629.5), (575, 758.8, 655, 759.8), (575, 836, 655, 837)], "#555555")
boxes([(575, y, 655, y + 0.7) for y in (651, 673, 694, 716, 737, 868, 901, 922, 954, 986)], "#e9e9e9")
words([("ID", 587, 617), ("Ensembl", 620, 617), ("Search:", 585, 793), ("ID", 586, 820), ("Tissue", 617, 820)], **HEAD)
words([("▴", x, y) for x, y in ((602, 615), (599, 818), (650, 818))], fontSize=5, fill="#cccccc", **GLYPH)
words([("▾", x, y) for x, y in ((602, 619), (599, 822), (650, 822))], fontSize=5, fill="#cccccc", **GLYPH)
boxes([(614, 787, 656, 800)], "#ffffff", "#999999", 0)
words([("PAX6", 581, 640), ("MITF", 581, 662), ("CRX", 581, 684), ("NRL", 581, 705.5), ("SOX2", 581, 727), ("TYRP1", 581, 749),
       ("CRX", 581, 853), ("CRX", 581, 885), ("CRX", 581, 912), ("CRX", 581, 938), ("CRX", 581, 971), ("CRX", 581, 1008),
       ("Brain -", 612, 848), ("Cerebellum", 612, 858), ("Kidney -", 612, 880), ("Cortex", 612, 890), ("Liver", 612, 912),
       ("RPE - Adult", 612, 933), ("Tissue", 612, 943), ("RPE - Stem", 612, 966), ("Cell Line", 612, 976),
       ("Retina - 3D", 612, 998), ("Organoid", 612, 1008), ("Stem Cell", 612, 1019)], **CELL)
link_rows = [640, 662, 684, 705.5, 727, 749]
words([("Ensembl", 614.5, y) for y in link_rows], fontSize=6.9, fill="#4A90D9")
boxes([(614.5, y + 4, 642, y + 4.6) for y in link_rows], "#4A90D9")

# ---------- hover tooltip ----------
boxes([(576.3, 170, 730, 242.7)], "#0f0f0f", None, 2)
words([("SRA: SRS402528", 579, 180.5), ("Study: Comparison of stem-cell derived", 579, 194), ("(RPE) with human fetal retina pigment", 579, 207),
       ("origen of cultured cells: hESC H9 line", 579, 220.5), ("transepithelial electrical resistance:", 579, 233.5)], fontSize=9, fill="#eeeeee")

chart = alt.layer(*layers).resolve_scale(
    x="independent", y="independent", color="independent", stroke="independent"
).properties(
    width=702, height=1018, padding=0,
    autosize=alt.AutoSizeParams(type="none", contains="padding"),
).configure_view(stroke=None)

chart.save("out.html", embed_options={"renderer": "svg", "actions": False})
